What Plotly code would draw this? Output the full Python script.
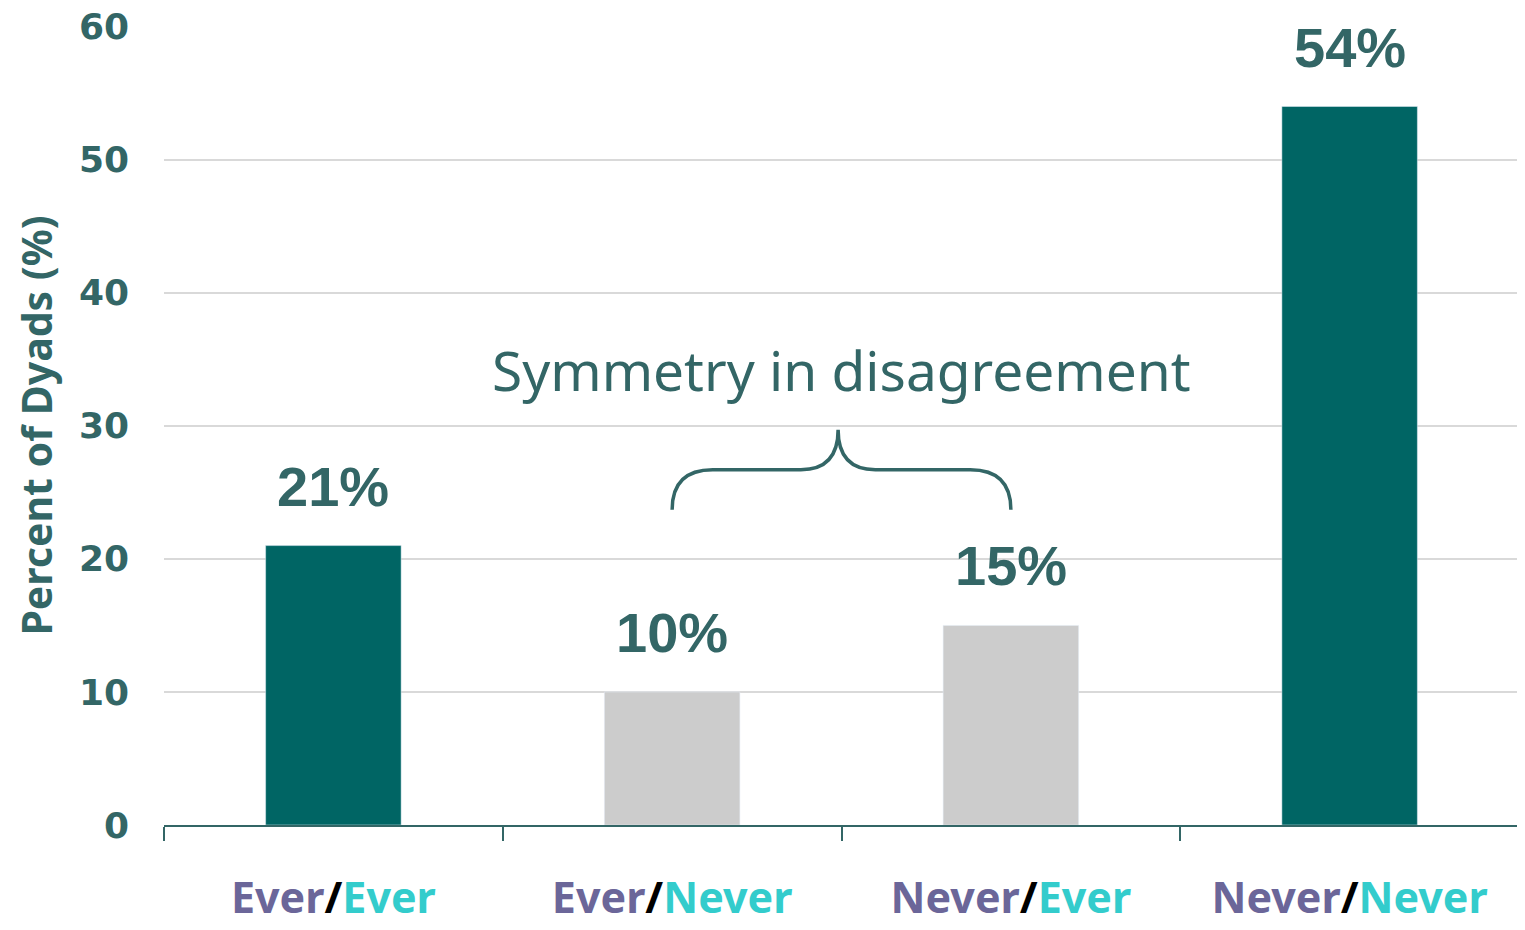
import plotly.graph_objects as go

# dyad categories and their shares
categories = ['Ever/Ever', 'Ever/Never', 'Never/Ever', 'Never/Never']
first_part = ['Ever', 'Ever', 'Never', 'Never']
second_part = ['Ever', 'Never', 'Ever', 'Never']
percent = [21, 10, 15, 54]
bar_colors = ['#006564', '#cccccc', '#cccccc', '#006564']
y_ticks = [0, 10, 20, 30, 40, 50, 60]

TEAL_TEXT = '#336666'
PURPLE = '#6b6699'
CYAN = '#33cccc'

tick_text = [
    f"<span style='color:{PURPLE}'>{a}</span>"
    f"<span style='color:black'>/</span>"
    f"<span style='color:{CYAN}'>{b}</span>"
    for a, b in zip(first_part, second_part)
]

fig = go.Figure()
fig.add_trace(go.Bar(
    x=categories,
    y=percent,
    marker_color=bar_colors,
    width=0.4,
    hoverinfo='skip',
))

# value labels above the bars
for cat, val in zip(categories, percent):
    fig.add_annotation(
        x=cat, y=val, text=f'<b>{val}%</b>',
        showarrow=False, yanchor='bottom', yshift=26,
        font=dict(family='Liberation Sans', size=56, color=TEAL_TEXT),
    )

# curly brace over the two disagreement bars
fig.add_shape(
    type='path',
    xref='x', yref='y',
    path=('M 1,23.7 Q 1,26.7 1.12,26.7 L 1.38,26.7 '
          'Q 1.49,26.7 1.49,29.7 Q 1.49,26.7 1.6,26.7 '
          'L 1.88,26.7 Q 2,26.7 2,23.7'),
    line=dict(color=TEAL_TEXT, width=3.5),
)
fig.add_annotation(
    x=1.5, y=34.2, xref='x', yref='y',
    text='Symmetry in disagreement', showarrow=False,
    font=dict(family='Noto Sans', size=55, color=TEAL_TEXT),
)

fig.update_xaxes(
    tickmode='array', tickvals=categories, ticktext=tick_text,
    tickson='boundaries', ticks='outside', ticklen=14, tickwidth=2,
    tickcolor=TEAL_TEXT, showline=True, linecolor=TEAL_TEXT, linewidth=2,
    tickfont=dict(family='Noto Sans', size=43, weight='bold'),
    ticklabelstandoff=34, automargin=False,
    showgrid=False,
)
fig.update_yaxes(
    range=[0, 60.05], tickvals=y_ticks,
    showgrid=True, gridcolor='#d9d9d9', gridwidth=1.5,
    zeroline=False, automargin=False,
    tickfont=dict(family='DejaVu Sans', size=36, color=TEAL_TEXT, weight='bold'),
    ticklabelstandoff=34, ticklabeloverflow='allow',
    title=dict(text='<b>Percent of Dyads (%)</b>', standoff=45,
               font=dict(family='Noto Sans', size=41, color=TEAL_TEXT)),
)
fig.update_layout(
    width=1525, height=930,
    margin=dict(l=156, r=14, t=18, b=113),
    plot_bgcolor='white',
    paper_bgcolor='white',
    showlegend=False,
    bargap=0.6,
)

fig.write_html('out.html')
